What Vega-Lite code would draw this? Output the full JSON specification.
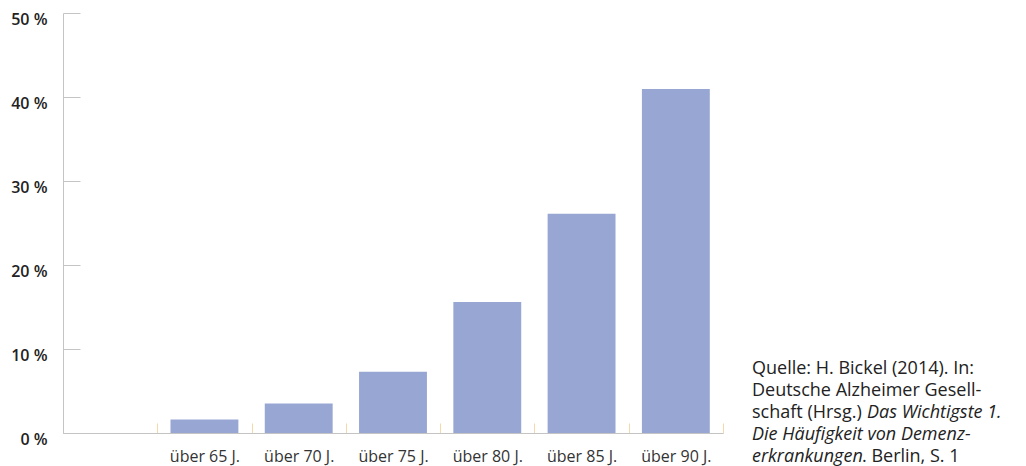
{
  "$schema": "https://vega.github.io/schema/vega-lite/v6.json",
  "width": 660,
  "height": 420,
  "autosize": "none",
  "padding": {"left": 63, "top": 13, "right": 303, "bottom": 33},
  "config": {"view": {"stroke": null}, "font": "Open Sans"},
  "data": {"values": [
    {"age": "", "pct": 0},
    {"age": "über 65 J.", "pct": 1.6},
    {"age": "über 70 J.", "pct": 3.5},
    {"age": "über 75 J.", "pct": 7.3},
    {"age": "über 80 J.", "pct": 15.6},
    {"age": "über 85 J.", "pct": 26.1},
    {"age": "über 90 J.", "pct": 40.95}
  ]},
  "layer": [
    {
      "mark": {"type": "bar", "color": "#98a6d4", "width": {"band": 0.72}},
      "encoding": {
        "x": {
          "field": "age", "type": "nominal", "sort": null,
          "scale": {"domain": ["", "über 65 J.", "über 70 J.", "über 75 J.", "über 80 J.", "über 85 J.", "über 90 J."], "paddingInner": 0, "paddingOuter": 0},
          "axis": {
            "title": null, "labelAngle": 0, "tickBand": "extent",
            "tickSize": -10, "tickColor": "#f7d9a9", "tickWidth": 1,
            "domainColor": "#c4c4c4", "labelPadding": 25,
            "labelFontSize": 16, "labelColor": "#333333", "labelBaseline": "top"
          }
        },
        "y": {
          "field": "pct", "type": "quantitative",
          "scale": {"domain": [0, 50]},
          "axis": {
            "title": null, "values": [0, 10, 20, 30, 40, 50], "grid": false,
            "labelExpr": "datum.value + ' %'",
            "tickSize": -17, "tickColor": "#c4c4c4", "domainColor": "#c4c4c4",
            "labelPadding": 33, "labelFontSize": 16, "labelFontWeight": 600,
            "labelColor": "#222222", "labelBaseline": "middle", "labelOffset": 6
          }
        }
      }
    },
    {
      "data": {"values": [{"t": ["Quelle: H. Bickel (2014). In:", "Deutsche Alzheimer Gesell-", "schaft (Hrsg.)"]}]},
      "mark": {"type": "text", "align": "left", "baseline": "alphabetic", "fontSize": 18, "lineHeight": 22, "color": "#222222", "dx": 29, "dy": -59},
      "encoding": {"x": {"value": "width"}, "y": {"value": "height"}, "text": {"field": "t"}}
    },
    {
      "data": {"values": [{"t": "Das Wichtigste 1."}]},
      "mark": {"type": "text", "align": "left", "baseline": "alphabetic", "fontSize": 18, "fontStyle": "italic", "color": "#222222", "dx": 144, "dy": -15},
      "encoding": {"x": {"value": "width"}, "y": {"value": "height"}, "text": {"field": "t"}}
    },
    {
      "data": {"values": [{"t": ["Die Häufigkeit von Demenz-", "erkrankungen"]}]},
      "mark": {"type": "text", "align": "left", "baseline": "alphabetic", "fontSize": 18, "lineHeight": 22, "fontStyle": "italic", "color": "#222222", "dx": 29, "dy": 7},
      "encoding": {"x": {"value": "width"}, "y": {"value": "height"}, "text": {"field": "t"}}
    },
    {
      "data": {"values": [{"t": ". Berlin, S. 1"}]},
      "mark": {"type": "text", "align": "left", "baseline": "alphabetic", "fontSize": 18, "color": "#222222", "dx": 139, "dy": 29},
      "encoding": {"x": {"value": "width"}, "y": {"value": "height"}, "text": {"field": "t"}}
    }
  ]
}
